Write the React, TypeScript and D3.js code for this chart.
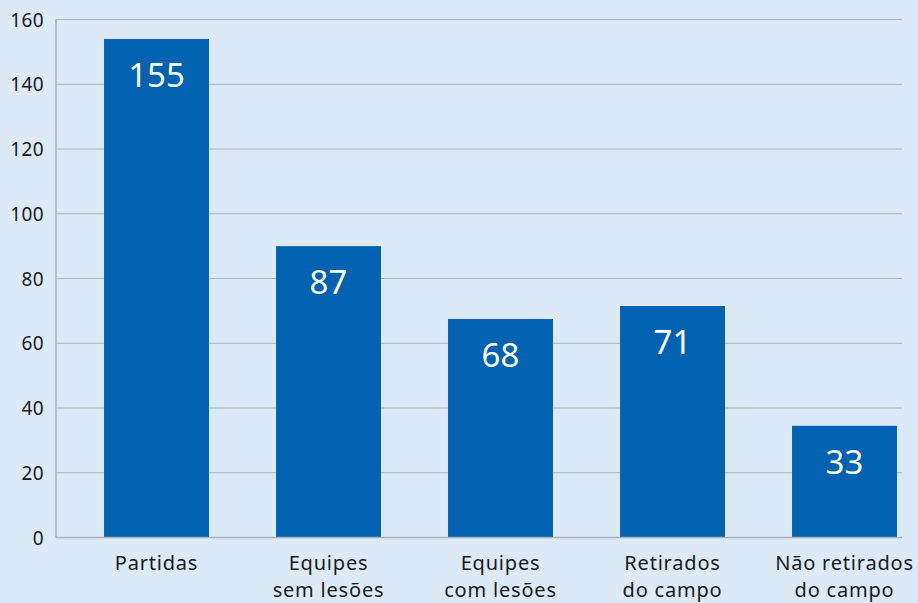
import React from "react";
import * as d3 from "d3";

const categories: string[][] = [
  ["Partidas"],
  ["Equipes", "sem lesões"],
  ["Equipes", "com lesões"],
  ["Retirados", "do campo"],
  ["Não retirados", "do campo"],
];
const barValues = [154, 90, 67.5, 71.5, 34.5];
const valueLabels = ["155", "87", "68", "71", "33"];
const yTicks = [0, 20, 40, 60, 80, 100, 120, 140, 160];

const W = 918;
const H = 603;
const FONT = "'Noto Sans', sans-serif";

export default function App() {
  const y = d3.scaleLinear().domain([0, 160]).range([537.5, 19.5]);
  const x = d3
    .scaleBand<number>()
    .domain(d3.range(categories.length))
    .range([70.5, 930.5])
    .paddingInner(0.39)
    .paddingOuter(0.195);
  const axisX = 56;
  const gridEnd = 902;
  return (
    <div style={{ position: "absolute", left: 0, top: 0, width: W, height: H }}>
      <svg width={W} height={H} style={{ display: "block", background: "#dceaf7" }}>
        {yTicks.map((t) => (
          <g key={t}>
            <line x1={axisX} x2={gridEnd} y1={y(t)} y2={y(t)} stroke="#a9afb6" strokeWidth={1.2} />
            <text x={44} y={y(t) + 7} textAnchor="end" fontFamily={FONT} fontSize={19} letterSpacing={0.4} fill="#1a1a1a">
              {t}
            </text>
          </g>
        ))}
        <line x1={axisX} x2={axisX} y1={y(160)} y2={y(0)} stroke="#a9afb6" strokeWidth={1.5} />
        {barValues.map((v, i) => (
          <g key={i}>
            <rect x={x(i)} y={y(v)} width={x.bandwidth()} height={y(0) - y(v)} fill="#0062b0" />
            <text
              x={(x(i) as number) + x.bandwidth() / 2}
              y={y(v) + 48}
              textAnchor="middle"
              fontFamily={FONT}
              fontSize={33}
              fill="#ffffff"
            >
              {valueLabels[i]}
            </text>
            {categories[i].map((line, j) => (
              <text
                key={j}
                x={(x(i) as number) + x.bandwidth() / 2}
                y={570 + j * 27}
                textAnchor="middle"
                fontFamily={FONT}
                fontSize={20}
                letterSpacing={0.8}
                fill="#1a1a1a"
              >
                {line}
              </text>
            ))}
          </g>
        ))}
        <line x1={axisX} x2={gridEnd} y1={y(0)} y2={y(0)} stroke="#a9afb6" strokeWidth={1.5} />
      </svg>
    </div>
  );
}
